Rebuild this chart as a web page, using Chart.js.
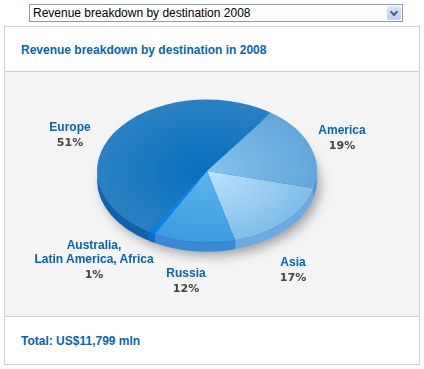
<!DOCTYPE html>
<html lang="en">
<head>
    <meta charset="UTF-8">
    <title>Revenue breakdown by destination</title>
    <script src="https://cdn.jsdelivr.net/npm/chart.js"></script>
    <style>
        body {
            margin: 0;
            padding: 0;
            background: #fff;
            font-family: 'Liberation Sans', Arial, sans-serif;
            width: 424px;
            height: 369px;
            overflow: hidden;
            position: relative;
        }

        .picker {
            position: absolute;
            left: 29px;
            top: 4px;
            width: 369px;
            height: 16px;
            border: 1px solid #7f9db9;
            background: #fff;
            font-size: 12px;
            line-height: 16px;
            color: #000;
            padding-left: 3px;
            box-sizing: content-box;
        }

        .picker .btn {
            position: absolute;
            right: 1px;
            top: 1px;
            width: 14px;
            height: 14px;
            border-radius: 2px;
            background: linear-gradient(#dfe8fb, #b9cdf6);
        }

        .picker .btn:after {
            content: '';
            position: absolute;
            left: 4px;
            top: 3px;
            width: 4px;
            height: 4px;
            border-right: 2px solid #4d6185;
            border-bottom: 2px solid #4d6185;
            transform: rotate(45deg);
        }

        .panel {
            position: absolute;
            left: 4px;
            top: 26px;
            width: 414px;
            height: 337px;
            border: 1px solid #d0d0d0;
            background: #fff;
        }

        .panel .head {
            height: 44px;
            border-bottom: 1px solid #d0d0d0;
        }

        .panel .body {
            height: 244px;
            background: #f4f4f4;
            border-bottom: 1px solid #d0d0d0;
        }

        .caption {
            position: absolute;
            left: 16px;
            color: #0864b0;
            font-weight: bold;
            font-size: 12px;
        }

        .lbl {
            position: absolute;
            transform: translateX(-50%);
            text-align: center;
            white-space: nowrap;
            z-index: 3;
        }

        .lbl .name {
            color: #0864b0;
            font-weight: bold;
            font-size: 12px;
            line-height: 14px;
        }

        .lbl .pct {
            color: #444;
            font-family: 'DejaVu Sans', sans-serif;
            font-weight: bold;
            font-size: 11px;
            line-height: 15px;
            margin-top: 1px;
        }

        #pie {
            position: absolute;
            left: 0;
            top: 0;
            z-index: 2;
            pointer-events: none;
        }
    </style>
</head>

<body>
<div class="picker">Revenue breakdown by destination 2008<div class="btn"></div></div>

<div class="panel">
    <div class="head"></div>
    <div class="body"></div>
    <div class="caption" style="top: 16px;">Revenue breakdown by destination in 2008</div>
    <div class="caption" id="total" style="top: 307px;"></div>
</div>

<canvas id="pie" width="424" height="369"></canvas>
<div id="labels"></div>

<script>
    // данные
    const categories = ['Europe', 'America', 'Asia', 'Russia', ['Australia,', 'Latin America, Africa']];
    const shares = [51, 19, 17, 12, 1];
    const totalRevenue = '11,799';

    // оформление
    const topColors = [
        ['#0670c0', '#2a80c2'],
        ['#86c2ec', '#62a6da'],
        ['#bde3fb', '#82bde8'],
        ['#5ab6ee', '#3c9ce0'],
        ['#0a8cf0', '#0a80e6']
    ];
    const sideColors = ['#1262ab', '#4f95d6', '#6eaae2', '#3a88d6', '#0a6cd6'];
    const labelPos = [[70, 120], [342, 123], [293, 255], [186, 266], [94, 238]];
    const tilt = 0.65;
    const depth = 9;

    document.getElementById('total').textContent = 'Total: US$' + totalRevenue + ' mln';

    // подписи секторов
    const labelsBox = document.getElementById('labels');
    categories.forEach((cat, i) => {
        const div = document.createElement('div');
        div.className = 'lbl';
        div.style.left = labelPos[i][0] + 'px';
        div.style.top = labelPos[i][1] + 'px';
        const lines = Array.isArray(cat) ? cat : [cat];
        div.innerHTML = '<div class="name">' + lines.join('<br>') + '</div>' +
            '<div class="pct">' + shares[i] + '%</div>';
        labelsBox.appendChild(div);
    });

    // псевдо-3D: сплющиваем круг и рисуем боковину с тенью
    const pie3d = {
        id: 'pie3d',
        beforeDatasetsDraw(chart) {
            const ctx = chart.ctx;
            const arcs = chart.getDatasetMeta(0).data;
            const {x, y, outerRadius: r} = arcs[0];

            ctx.save();
            ctx.save();
            ctx.shadowColor = 'rgba(0, 0, 0, 0.35)';
            ctx.shadowBlur = 12;
            ctx.shadowOffsetX = 4;
            ctx.shadowOffsetY = 5;
            ctx.beginPath();
            ctx.ellipse(x, y + depth, r - 1, r * tilt - 1, 0, 0, Math.PI * 2);
            ctx.fillStyle = sideColors[0];
            ctx.fill();
            ctx.restore();

            ctx.translate(x, y);
            ctx.scale(1, tilt);
            ctx.translate(-x, -y);

            const dy = depth / tilt;
            arcs.forEach((a, i) => {
                for (let k = -1; k <= 2; k++) {
                    const lo = Math.max(a.startAngle, 2 * Math.PI * k);
                    const hi = Math.min(a.endAngle, 2 * Math.PI * k + Math.PI);
                    if (hi <= lo) continue;
                    ctx.beginPath();
                    ctx.arc(x, y, r, lo, hi);
                    ctx.arc(x, y + dy, r, hi, lo, true);
                    ctx.closePath();
                    ctx.fillStyle = sideColors[i];
                    ctx.fill();
                }
            });
        },
        afterDatasetsDraw(chart) {
            chart.ctx.restore();
        }
    };

    const ctx = document.getElementById('pie').getContext('2d');
    new Chart(ctx, {
        type: 'pie',
        data: {
            labels: categories,
            datasets: [{
                data: shares,
                borderWidth: 0,
                backgroundColor: (c) => {
                    const area = c.chart.chartArea;
                    if (!area) return topColors[c.dataIndex][1];
                    const cx = (area.left + area.right) / 2;
                    const cy = (area.top + area.bottom) / 2;
                    const r = Math.min(area.right - area.left, area.bottom - area.top) / 2;
                    const g = c.chart.ctx.createRadialGradient(cx, cy, 0, cx, cy, r);
                    g.addColorStop(0, topColors[c.dataIndex][0]);
                    g.addColorStop(1, topColors[c.dataIndex][1]);
                    return g;
                }
            }]
        },
        options: {
            responsive: false,
            animation: false,
            rotation: 212,
            layout: {padding: {left: 97, right: 107, top: 61, bottom: 88}},
            plugins: {
                legend: {display: false},
                tooltip: {enabled: false}
            }
        },
        plugins: [pie3d]
    });
</script>
</body>
</html>
